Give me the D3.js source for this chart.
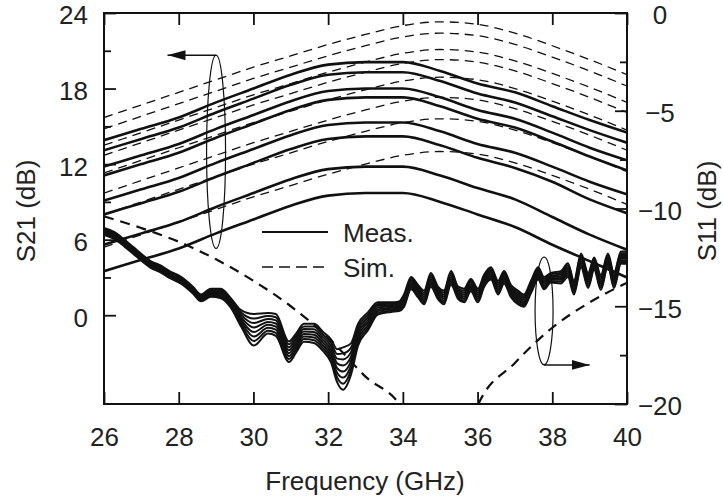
<html>
<head>
<meta charset="utf-8">
<title>S21 / S11 vs frequency</title>
<style>
body { margin: 0; background: #fff; }
text { font-family: "Liberation Sans", Arial, Helvetica, sans-serif; font-size: 26px; fill: #222; }
.meas21 { fill: none; stroke: #111; stroke-width: 2.6px; }
.sim21 { fill: none; stroke: #111; stroke-width: 1.3px; stroke-dasharray: 9,6; }
.meas11 { fill: none; stroke: #111; stroke-width: 2px; }
.sim11 { fill: none; stroke: #111; stroke-width: 2.2px; stroke-dasharray: 10,7; }
.axis line { stroke: #111; stroke-width: 1.8px; }
.axis path { display: none; }
</style>
</head>
<body>
<script src="https://d3js.org/d3.v7.min.js"></script>
<script>

// frequency grid for the S21 traces (GHz)
var freq = [26, 27, 28, 29, 30, 31, 32, 33, 34, 35, 36, 37, 38, 39, 40];

// measured S21 (dB), one array per bias state
var meas1 = [13.9, 14.8, 15.7, 16.9, 18.0, 19.1, 19.9, 20.1, 20.1, 19.4, 18.4, 17.7, 16.6, 15.5, 14.5];
var meas2 = [13.1, 14.0, 14.9, 16.1, 17.2, 18.3, 19.1, 19.3, 19.3, 18.6, 17.6, 16.9, 15.8, 14.7, 13.7];
var meas3 = [11.8, 12.7, 13.6, 14.8, 15.9, 17.0, 17.8, 18.0, 18.0, 17.3, 16.3, 15.6, 14.5, 13.3, 12.3];
var meas4 = [11.1, 12.0, 12.9, 14.1, 15.2, 16.3, 17.1, 17.3, 17.3, 16.6, 15.6, 14.9, 13.8, 12.6, 11.5];
var meas5 = [9.1, 10.0, 10.9, 12.1, 13.2, 14.3, 15.1, 15.3, 15.3, 14.6, 13.6, 12.9, 11.8, 10.6, 9.6];
var meas6 = [8.0, 8.9, 9.8, 11.0, 12.1, 13.2, 14.0, 14.2, 14.2, 13.5, 12.5, 11.7, 10.6, 9.2, 8.1];
var meas7 = [5.6, 6.5, 7.4, 8.6, 9.7, 10.8, 11.6, 11.8, 11.8, 11.1, 10.1, 9.2, 7.8, 6.4, 5.2];
var meas8 = [3.5, 4.4, 5.3, 6.5, 7.6, 8.7, 9.5, 9.7, 9.7, 9.0, 8.0, 7.0, 5.6, 4.3, 3.0];

// simulated S21 (dB)
var sim1 = [15.7, 16.7, 17.7, 18.7, 19.7, 20.6, 21.5, 22.3, 23.0, 23.3, 23.1, 22.4, 21.4, 20.3, 19.1];
var sim2 = [14.8, 15.8, 16.8, 17.8, 18.8, 19.7, 20.6, 21.4, 22.1, 22.4, 22.2, 21.5, 20.5, 19.4, 18.2];
var sim3 = [13.5, 14.5, 15.5, 16.5, 17.5, 18.4, 19.3, 20.1, 20.8, 21.1, 20.9, 20.2, 19.2, 18.1, 16.9];
var sim4 = [12.7, 13.7, 14.7, 15.7, 16.7, 17.6, 18.5, 19.3, 20.0, 20.3, 20.1, 19.4, 18.4, 17.3, 16.1];
var sim5 = [11.3, 12.3, 13.3, 14.3, 15.3, 16.2, 17.1, 17.9, 18.6, 18.9, 18.7, 18.0, 17.0, 15.9, 14.7];
var sim6 = [9.7, 10.7, 11.7, 12.7, 13.7, 14.6, 15.5, 16.3, 17.0, 17.3, 17.1, 16.4, 15.4, 14.3, 13.1];
var sim7 = [8.0, 9.0, 10.0, 11.0, 12.0, 12.9, 13.8, 14.6, 15.3, 15.6, 15.4, 14.7, 13.7, 12.6, 11.4];
var sim8 = [5.4, 6.4, 7.4, 8.4, 9.4, 10.3, 11.2, 12.0, 12.7, 13.0, 12.8, 12.1, 11.1, 10.0, 8.8];

// simulated S11 (dB), notch dips below the axis around 35 GHz
var s11SimFreq = [26, 27, 28, 29, 30, 31, 32, 33, 34, 34.5, 35, 35.5, 36, 37, 38, 39, 40];
var s11Sim = [-10.4, -11.0, -11.7, -12.6, -13.7, -15.0, -16.6, -18.6, -20.3, -23.0, -28.0, -24.0, -20.1, -17.9, -16.1, -14.8, -13.8];

// measured S11 (dB): each row is frequency, then the 8 traces of the bundle
var s11Rows = [
  [26.00, -11.00, -11.05, -11.10, -11.15, -11.20, -11.25, -11.30, -11.35],
  [26.27, -11.20, -11.25, -11.30, -11.35, -11.40, -11.45, -11.50, -11.55],
  [26.55, -11.60, -11.65, -11.70, -11.75, -11.80, -11.85, -11.90, -11.95],
  [26.80, -12.00, -12.05, -12.10, -12.15, -12.20, -12.25, -12.30, -12.35],
  [27.05, -12.40, -12.45, -12.50, -12.55, -12.60, -12.65, -12.70, -12.75],
  [27.26, -12.70, -12.75, -12.80, -12.85, -12.90, -12.95, -13.00, -13.05],
  [27.50, -12.90, -12.95, -13.00, -13.05, -13.10, -13.15, -13.20, -13.25],
  [27.75, -13.20, -13.25, -13.30, -13.35, -13.40, -13.45, -13.50, -13.55],
  [28.06, -13.50, -13.55, -13.60, -13.65, -13.70, -13.75, -13.80, -13.85],
  [28.38, -14.00, -14.05, -14.10, -14.15, -14.20, -14.25, -14.30, -14.35],
  [28.60, -14.40, -14.45, -14.50, -14.55, -14.60, -14.65, -14.70, -14.75],
  [28.86, -14.10, -14.16, -14.22, -14.28, -14.34, -14.40, -14.46, -14.52],
  [29.13, -14.10, -14.17, -14.24, -14.31, -14.38, -14.45, -14.52, -14.59],
  [29.40, -14.60, -14.67, -14.74, -14.81, -14.88, -14.95, -15.02, -15.09],
  [29.67, -15.20, -15.32, -15.44, -15.56, -15.68, -15.80, -15.92, -16.04],
  [30.01, -15.40, -15.63, -15.86, -16.09, -16.32, -16.55, -16.78, -17.01],
  [30.39, -15.35, -15.50, -15.65, -15.80, -15.95, -16.10, -16.25, -16.40],
  [30.60, -15.40, -15.56, -15.72, -15.88, -16.04, -16.20, -16.36, -16.52],
  [30.95, -16.80, -16.95, -17.10, -17.25, -17.40, -17.55, -17.70, -17.85],
  [31.14, -16.40, -16.54, -16.68, -16.82, -16.96, -17.10, -17.24, -17.38],
  [31.35, -15.90, -16.03, -16.16, -16.29, -16.42, -16.55, -16.68, -16.81],
  [31.62, -15.90, -16.04, -16.18, -16.32, -16.46, -16.60, -16.74, -16.88],
  [31.86, -16.30, -16.44, -16.58, -16.72, -16.86, -17.00, -17.14, -17.28],
  [32.08, -16.70, -16.87, -17.04, -17.21, -17.38, -17.55, -17.72, -17.89],
  [32.24, -17.20, -17.44, -17.68, -17.92, -18.16, -18.40, -18.64, -18.88],
  [32.40, -17.10, -17.41, -17.72, -18.03, -18.34, -18.65, -18.96, -19.27],
  [32.61, -16.90, -17.13, -17.36, -17.59, -17.82, -18.05, -18.28, -18.51],
  [32.80, -15.90, -16.06, -16.22, -16.38, -16.54, -16.70, -16.86, -17.02],
  [33.07, -15.30, -15.43, -15.56, -15.69, -15.82, -15.95, -16.08, -16.21],
  [33.33, -14.80, -14.89, -14.98, -15.07, -15.16, -15.25, -15.34, -15.43],
  [33.68, -14.80, -14.87, -14.94, -15.01, -15.08, -15.15, -15.22, -15.29],
  [33.90, -14.75, -14.82, -14.89, -14.96, -15.03, -15.10, -15.17, -15.24],
  [34.03, -14.40, -14.49, -14.58, -14.67, -14.76, -14.85, -14.94, -15.03],
  [34.22, -13.50, -13.59, -13.68, -13.77, -13.86, -13.95, -14.04, -14.13],
  [34.40, -13.90, -13.99, -14.08, -14.17, -14.26, -14.35, -14.44, -14.53],
  [34.57, -14.20, -14.30, -14.40, -14.50, -14.60, -14.70, -14.80, -14.90],
  [34.75, -13.30, -13.40, -13.50, -13.60, -13.70, -13.80, -13.90, -14.00],
  [34.94, -14.00, -14.09, -14.18, -14.27, -14.36, -14.45, -14.54, -14.63],
  [35.10, -14.20, -14.30, -14.40, -14.50, -14.60, -14.70, -14.80, -14.90],
  [35.29, -13.20, -13.30, -13.40, -13.50, -13.60, -13.70, -13.80, -13.90],
  [35.48, -14.00, -14.09, -14.18, -14.27, -14.36, -14.45, -14.54, -14.63],
  [35.64, -14.10, -14.20, -14.30, -14.40, -14.50, -14.60, -14.70, -14.80],
  [35.82, -13.60, -13.69, -13.78, -13.87, -13.96, -14.05, -14.14, -14.23],
  [36.01, -14.10, -14.20, -14.30, -14.40, -14.50, -14.60, -14.70, -14.80],
  [36.17, -13.40, -13.49, -13.58, -13.67, -13.76, -13.85, -13.94, -14.03],
  [36.36, -13.00, -13.09, -13.18, -13.27, -13.36, -13.45, -13.54, -13.63],
  [36.55, -13.70, -13.80, -13.90, -14.00, -14.10, -14.20, -14.30, -14.40],
  [36.71, -13.20, -13.29, -13.38, -13.47, -13.56, -13.65, -13.74, -13.83],
  [36.89, -13.90, -13.99, -14.08, -14.17, -14.26, -14.35, -14.44, -14.53],
  [37.08, -14.20, -14.30, -14.40, -14.50, -14.60, -14.70, -14.80, -14.90],
  [37.24, -14.40, -14.49, -14.58, -14.67, -14.76, -14.85, -14.94, -15.03],
  [37.43, -13.70, -13.79, -13.88, -13.97, -14.06, -14.15, -14.24, -14.33],
  [37.62, -13.00, -13.09, -13.18, -13.27, -13.36, -13.45, -13.54, -13.63],
  [37.78, -13.50, -13.59, -13.68, -13.77, -13.86, -13.95, -14.04, -14.13],
  [37.96, -13.30, -13.37, -13.44, -13.51, -13.58, -13.65, -13.72, -13.79],
  [38.23, -13.20, -13.29, -13.38, -13.47, -13.56, -13.65, -13.74, -13.83],
  [38.42, -12.80, -12.90, -13.00, -13.10, -13.20, -13.30, -13.40, -13.50],
  [38.58, -13.70, -13.80, -13.90, -14.00, -14.10, -14.20, -14.30, -14.40],
  [38.77, -12.30, -12.40, -12.50, -12.60, -12.70, -12.80, -12.90, -13.00],
  [38.96, -13.30, -13.41, -13.52, -13.63, -13.74, -13.85, -13.96, -14.07],
  [39.12, -12.50, -12.59, -12.68, -12.77, -12.86, -12.95, -13.04, -13.13],
  [39.30, -13.40, -13.51, -13.62, -13.73, -13.84, -13.95, -14.06, -14.17],
  [39.49, -12.30, -12.39, -12.48, -12.57, -12.66, -12.75, -12.84, -12.93],
  [39.65, -13.30, -13.41, -13.52, -13.63, -13.74, -13.85, -13.96, -14.07],
  [39.84, -12.20, -12.29, -12.38, -12.47, -12.56, -12.65, -12.74, -12.83],
  [40.00, -12.20, -12.29, -12.38, -12.47, -12.56, -12.65, -12.74, -12.83]
];

// tick values
var xTicks = [26, 28, 30, 32, 34, 36, 38, 40];
var leftTicks = [0, 6, 12, 18, 24];
var leftMinor = [3, 9, 15, 21];
var rightTicks = [0, -5, -10, -15, -20];
var rightMinor = [-2.5, -7.5, -12.5, -17.5];

// size of the page and plot box
var width = 723, height = 496;
var box = {left: 104, right: 627, top: 13, bottom: 404};

var x = d3.scaleLinear().domain([26, 40]).range([box.left, box.right]);
var yL = d3.scaleLinear().domain([-7.05, 24]).range([box.bottom, box.top]);
var yR = d3.scaleLinear().domain([-20, 0]).range([box.bottom, box.top]);

var svg = d3.select("body").append("svg")
    .attr("width", width)
    .attr("height", height);

svg.append("clipPath").attr("id", "plotclip")
  .append("rect")
    .attr("x", box.left).attr("y", box.top)
    .attr("width", box.right - box.left).attr("height", box.bottom - box.top);

var plot = svg.append("g").attr("clip-path", "url(#plotclip)");

// line generators
var lineL = d3.line()
    .x(function(d) { return x(d[0]); })
    .y(function(d) { return yL(d[1]); })
    .curve(d3.curveMonotoneX);
var lineR = d3.line()
    .x(function(d) { return x(d[0]); })
    .y(function(d) { return yR(d[1]); })
    .curve(d3.curveMonotoneX);

function pairs(xs, ys) {
  return xs.map(function(f, i) { return [f, ys[i]]; });
}

// simulated S21 first, measured on top
[sim1, sim2, sim3, sim4, sim5, sim6, sim7, sim8].forEach(function(s) {
  plot.append("path").attr("class", "sim21").attr("d", lineL(pairs(freq, s)));
});
[meas1, meas2, meas3, meas4, meas5, meas6, meas7, meas8].forEach(function(s) {
  plot.append("path").attr("class", "meas21").attr("d", lineL(pairs(freq, s)));
});

// S11 simulated and the measured bundle
plot.append("path").attr("class", "sim11").attr("d", lineR(pairs(s11SimFreq, s11Sim)));
d3.range(8).forEach(function(k) {
  var pts = s11Rows.map(function(r) { return [r[0], r[k + 1]]; });
  plot.append("path").attr("class", "meas11").attr("d", lineR(pts));
});

// axes, ticks point into the box
svg.append("g").attr("class", "axis")
    .attr("transform", "translate(0," + box.bottom + ")")
    .call(d3.axisBottom(x).tickValues(xTicks).tickSize(-12).tickPadding(24));
svg.append("g").attr("class", "axis")
    .attr("transform", "translate(0," + box.top + ")")
    .call(d3.axisTop(x).tickValues(xTicks).tickSize(-12).tickFormat(""));

var lAxis = svg.append("g").attr("class", "axis")
    .attr("transform", "translate(" + box.left + ",0)")
    .call(d3.axisLeft(yL).tickValues(leftTicks).tickSize(-12).tickPadding(16));
lAxis.selectAll("text").attr("dy", "0.42em");
svg.append("g").attr("class", "axis")
    .attr("transform", "translate(" + box.left + ",0)")
    .call(d3.axisLeft(yL).tickValues(leftMinor).tickSize(-7).tickFormat(""));

var rAxis = svg.append("g").attr("class", "axis")
    .attr("transform", "translate(" + box.right + ",0)")
    .call(d3.axisRight(yR).tickValues(rightTicks).tickSize(-12));
rAxis.selectAll("text").attr("x", 33).attr("dy", "0.42em").attr("text-anchor", "middle");
svg.append("g").attr("class", "axis")
    .attr("transform", "translate(" + box.right + ",0)")
    .call(d3.axisRight(yR).tickValues(rightMinor).tickSize(-7).tickFormat(""));

svg.selectAll(".axis text").attr("fill", "#222").style("font-size", "26px")
    .style("font-family", "'Liberation Sans', Arial, sans-serif");

// plot frame
svg.append("rect")
    .attr("x", box.left).attr("y", box.top)
    .attr("width", box.right - box.left).attr("height", box.bottom - box.top)
    .attr("fill", "none").attr("stroke", "#111").attr("stroke-width", 2);

// axis titles
svg.append("text")
    .attr("x", 365).attr("y", 490)
    .attr("text-anchor", "middle")
    .text("Frequency (GHz)");
svg.append("text")
    .attr("transform", "translate(35,211) rotate(-90)")
    .attr("text-anchor", "middle")
    .text("S21 (dB)");
svg.append("text")
    .attr("transform", "translate(716,211) rotate(-90)")
    .attr("text-anchor", "middle")
    .text("S11 (dB)");

// legend
svg.append("line").attr("x1", 262).attr("x2", 328).attr("y1", 232).attr("y2", 232)
    .attr("stroke", "#111").attr("stroke-width", 2);
svg.append("line").attr("x1", 262).attr("x2", 328).attr("y1", 267).attr("y2", 267)
    .attr("stroke", "#111").attr("stroke-width", 1.3).attr("stroke-dasharray", "11,6");
svg.append("text").attr("x", 343).attr("y", 242).text("Meas.");
svg.append("text").attr("x", 343).attr("y", 277).text("Sim.");

// annotation ellipses with arrows pointing at their axis
svg.append("defs").append("marker")
    .attr("id", "head").attr("viewBox", "0 0 18 10")
    .attr("refX", 18).attr("refY", 5)
    .attr("markerWidth", 18).attr("markerHeight", 10)
    .attr("markerUnits", "userSpaceOnUse")
    .attr("orient", "auto")
  .append("path").attr("d", "M0,0L18,5L0,10Z").attr("fill", "#111");

// left group: S21 traces, arrow to the left axis
var e1 = {f: 29.0, top: 20.65, bottom: 5.3, tip: 27.7};
svg.append("ellipse")
    .attr("cx", x(e1.f)).attr("cy", (yL(e1.top) + yL(e1.bottom)) / 2)
    .attr("rx", 9.5).attr("ry", (yL(e1.bottom) - yL(e1.top)) / 2)
    .attr("fill", "none").attr("stroke", "#111").attr("stroke-width", 1.2);
svg.append("line")
    .attr("x1", x(e1.f)).attr("y1", yL(e1.top))
    .attr("x2", x(e1.tip)).attr("y2", yL(e1.top))
    .attr("stroke", "#111").attr("stroke-width", 1.5)
    .attr("marker-end", "url(#head)");

// right group: S11 traces, arrow to the right axis
var e2 = {f: 37.78, top: -12.48, bottom: -18.0, tip: 39.0};
svg.append("ellipse")
    .attr("cx", x(e2.f)).attr("cy", (yR(e2.top) + yR(e2.bottom)) / 2)
    .attr("rx", 9).attr("ry", (yR(e2.bottom) - yR(e2.top)) / 2)
    .attr("fill", "none").attr("stroke", "#111").attr("stroke-width", 1.2);
svg.append("line")
    .attr("x1", x(e2.f)).attr("y1", yR(e2.bottom))
    .attr("x2", x(e2.tip)).attr("y2", yR(e2.bottom))
    .attr("stroke", "#111").attr("stroke-width", 1.5)
    .attr("marker-end", "url(#head)");

</script>
</body>
</html>
